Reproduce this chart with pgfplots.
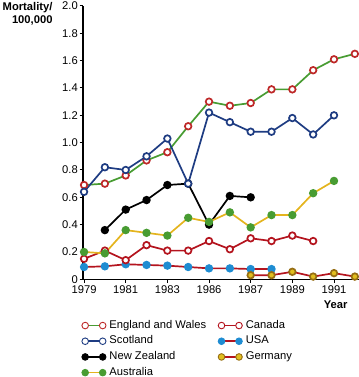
\documentclass[border=0pt]{standalone}
\usepackage{pgfplots}
\pgfplotsset{compat=1.18}
\usepackage{fontspec}
\setmainfont{Liberation Sans}
\definecolor{egreen}{RGB}{72,156,50}
\definecolor{ered}{RGB}{190,40,40}
\definecolor{cred}{RGB}{180,20,30}
\definecolor{navy}{RGB}{30,60,130}
\definecolor{ayellow}{RGB}{228,180,30}
\definecolor{ublue}{RGB}{30,140,210}
\definecolor{gyellow}{RGB}{225,190,30}
\definecolor{gbrown}{RGB}{150,110,20}
\begin{document}
\begin{tikzpicture}
\begin{axis}[
  scale only axis, width=276bp, height=273.3bp,
  xmin=1978.95, xmax=1992.2, ymin=0, ymax=2,
  axis lines=left, axis line style={-, line width=1.2bp},
  clip=false,
  font=\fontsize{11.2bp}{13bp}\selectfont,
  xtick={1979,1981,1983,1985,1987,1989,1991},
  xticklabels={1979,1981,1983,1986,1987,1989,1991},
  ytick={0,0.2,0.4,0.6,0.8,1.0,1.2,1.4,1.6,1.8,2.0},
  yticklabels={0,0.2,0.4,0.6,0.8,1.0,1.2,1.4,1.6,1.8,2.0},
  tick align=outside, major tick length=3.5bp,
  tick style={line width=1bp, black},
  yticklabel style={inner sep=1.5bp},
  xticklabel style={inner sep=3bp},
  every axis plot/.append style={line width=1.7bp, mark size=3.3bp, mark options={line width=0.9bp}},
  legend columns=2,
  legend cell align=left,
  legend image code/.code={\draw[#1] plot coordinates {(0bp,0bp) (17.5bp,0bp)};},
  legend style={draw=none, fill=none, inner sep=0pt, outer sep=0pt,
    at={(axis description cs:-0.004,-0.150)}, anchor=north west,
    row sep=5.2bp, font=\fontsize{11.2bp}{13bp}\selectfont,
    nodes={inner sep=0pt, text height=8bp, text depth=2.5bp, anchor=west},
    /tikz/every odd column/.append style={column sep=3.5bp},
    /tikz/every even column/.append style={column sep=12bp}},
]
% drawing order
\addplot[forget plot, cred, mark=*, mark options={fill=ublue, draw=ublue}] coordinates {
(1979,0.09) (1980,0.095) (1981,0.11) (1982,0.105) (1983,0.10) (1984,0.09) (1985,0.08) (1986,0.08) (1987,0.075) (1988,0.075)};
\addplot[forget plot, cred, mark=*, mark options={fill=gyellow, draw=gbrown}] coordinates {
(1987,0.03) (1988,0.03) (1989,0.055) (1990,0.02) (1991,0.045) (1992,0.02)};
\addplot[forget plot, cred, mark=*, mark options={fill=white, draw=cred}] coordinates {
(1979,0.15) (1980,0.21) (1981,0.14) (1982,0.25) (1983,0.21) (1984,0.21) (1985,0.28) (1986,0.22) (1987,0.30) (1988,0.28) (1989,0.32) (1990,0.28)};
\addplot[forget plot, black, mark=*, mark options={fill=black, draw=black}] coordinates {
(1980,0.36) (1981,0.51) (1982,0.58) (1983,0.69) (1984,0.70) (1985,0.40) (1986,0.61) (1987,0.60)};
\addplot[forget plot, ayellow, mark=*, mark options={fill=egreen, draw=egreen}] coordinates {
(1979,0.20) (1980,0.19) (1981,0.36) (1982,0.34) (1983,0.32) (1984,0.45) (1985,0.42) (1986,0.49) (1987,0.38) (1988,0.47) (1989,0.47) (1990,0.63) (1991,0.72)};
\addplot[forget plot, egreen, mark=*, mark options={fill=white, draw=ered}] coordinates {
(1979,0.69) (1980,0.70) (1981,0.76) (1982,0.87) (1983,0.93) (1984,1.12) (1985,1.30) (1986,1.27) (1987,1.29) (1988,1.39) (1989,1.39) (1990,1.53) (1991,1.61) (1992,1.65)};
\addplot[forget plot, navy, mark=*, mark options={fill=white, draw=navy}] coordinates {
(1979,0.64) (1980,0.82) (1981,0.80) (1982,0.90) (1983,1.03) (1984,0.70) (1985,1.22) (1986,1.15) (1987,1.08) (1988,1.08) (1989,1.18) (1990,1.06) (1991,1.20)};
% legend
\addlegendimage{egreen, line width=1.7bp, mark size=3.3bp, mark=*, mark options={fill=white, draw=ered, line width=0.9bp}}
\addlegendentry{England and Wales}
\addlegendimage{cred, line width=1.7bp, mark size=3.3bp, mark=*, mark options={fill=white, draw=cred, line width=0.9bp}}
\addlegendentry{Canada}
\addlegendimage{navy, line width=1.7bp, mark size=3.3bp, mark=*, mark options={fill=white, draw=navy, line width=0.9bp}}
\addlegendentry{Scotland}
\addlegendimage{cred, line width=1.7bp, mark size=3.3bp, mark=*, mark options={fill=ublue, draw=ublue, line width=0.9bp}}
\addlegendentry{USA}
\addlegendimage{black, line width=1.7bp, mark size=3.3bp, mark=*, mark options={fill=black, draw=black, line width=0.9bp}}
\addlegendentry{New Zealand}
\addlegendimage{cred, line width=1.7bp, mark size=3.3bp, mark=*, mark options={fill=gyellow, draw=gbrown, line width=0.9bp}}
\addlegendentry{Germany}
\addlegendimage{ayellow, line width=1.7bp, mark size=3.3bp, mark=*, mark options={fill=egreen, draw=egreen, line width=0.9bp}}
\addlegendentry{Australia}
\node[anchor=north east, align=right, inner sep=0pt, font=\fontsize{11.2bp}{13.3bp}\selectfont\bfseries]
  at ([xshift=-30.3bp, yshift=4.3bp]rel axis cs:0,1) {Mortality/\\100,000};
\node[anchor=east, inner sep=0pt, font=\fontsize{11.2bp}{13bp}\selectfont\bfseries]
  at ([xshift=264.7bp, yshift=-25.7bp]rel axis cs:0,0) {Year};
\end{axis}
\pgfresetboundingbox
\path (-83bp,-97.7bp) rectangle (276bp,279.3bp);
\end{tikzpicture}
\end{document}
